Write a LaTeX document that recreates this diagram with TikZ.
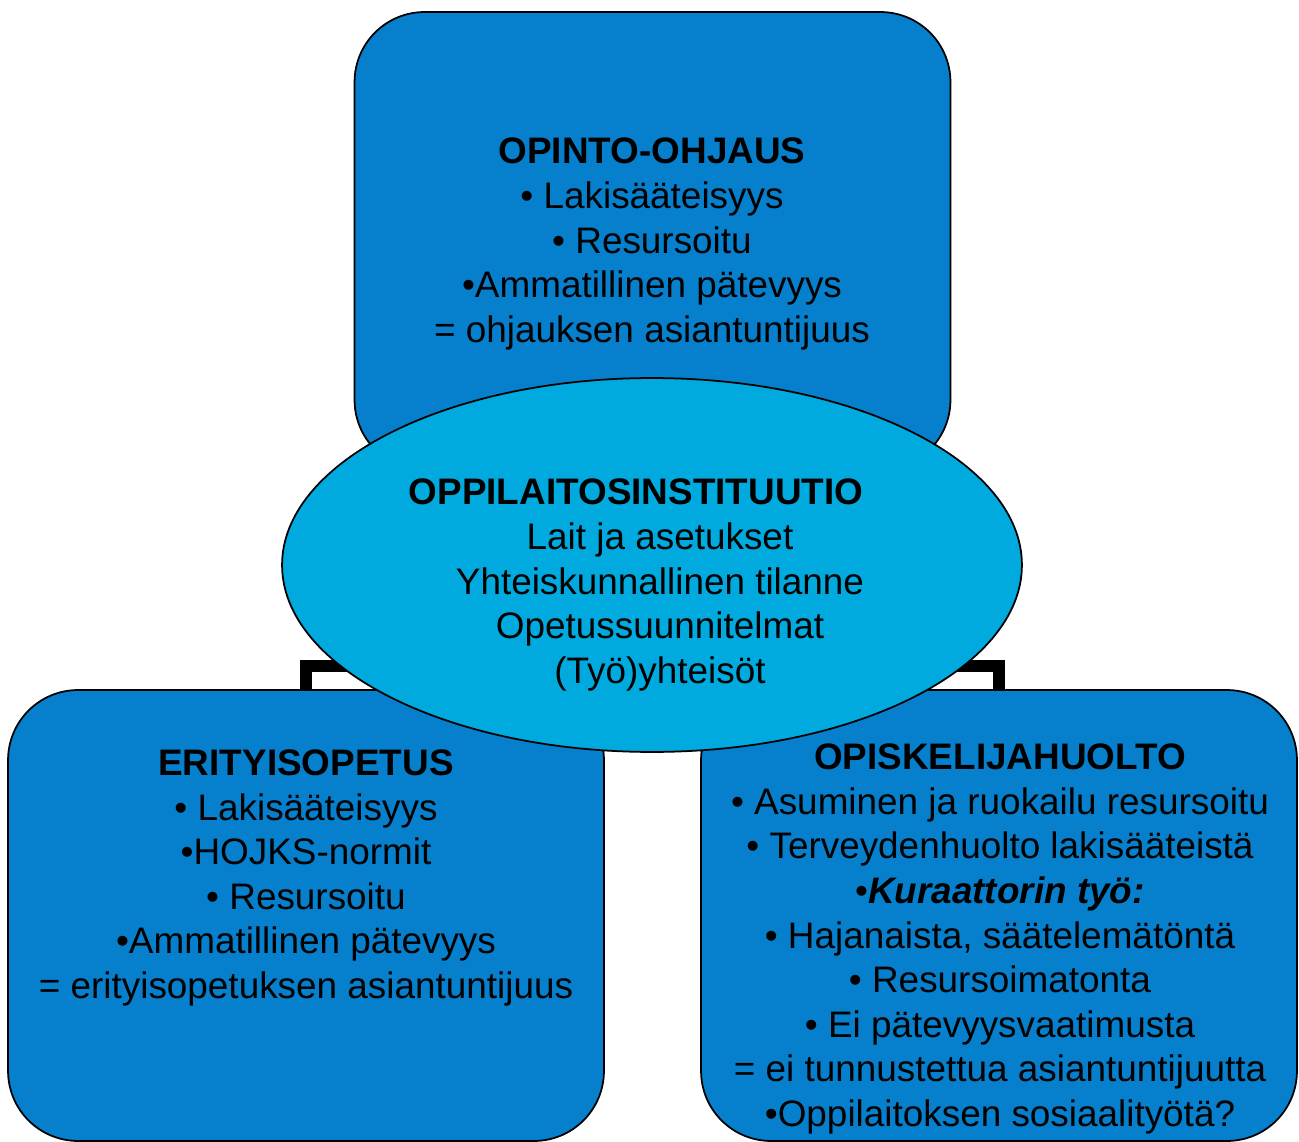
\documentclass[tikz,border=0pt]{standalone}
\usepackage{fontspec}
\setmainfont{Liberation Sans}
\usetikzlibrary{backgrounds,shapes.geometric}
\definecolor{boxblue}{RGB}{6,128,205}
\definecolor{ovalblue}{RGB}{0,170,222}

\begin{document}
\begin{tikzpicture}[line cap=round, line join=round, x=0.02cm, y=-0.02cm,
    infobox/.style={draw=black, line width=1pt, fill=boxblue, rounded corners=1.4cm,
        minimum width=11.92cm, minimum height=9.02cm, inner sep=0pt},
    centreoval/.style={draw=black, line width=1pt, fill=ovalblue, ellipse,
        minimum width=14.8cm, minimum height=7.48cm, inner sep=0pt},
    elbow/.style={line width=6.3pt, line cap=butt, line join=miter, draw=black},
    boxtext/.style={align=center, font=\fontsize{21}{25.4}\selectfont, inner sep=0pt}]
    \useasboundingbox (0, 0) rectangle (1299, 1142);

    % Centre ellipse
    \node[centreoval] (oppi) at (652, 565) {};

    \begin{scope}[on background layer]
        % Three boxes
        \node[infobox, minimum height=9.16cm] (opo) at (652.5, 241) {};
        \node[infobox] (eri) at (306, 915.5) {};
        \node[infobox] (huolto) at (999, 915.5) {};

        % Elbow connectors behind the ellipse
        \draw[elbow] (eri.north) |- ([yshift=-2.02cm]oppi.center);
        \draw[elbow] (huolto.north) |- ([yshift=-2.02cm]oppi.center);
    \end{scope}

    % Texts
    \node[boxtext] (opotext) at (652, 244) {\textbf{OPINTO-OHJAUS}\\
        • Lakisääteisyys\\
        • Resursoitu\\
        •Ammatillinen pätevyys\\
        = ohjauksen asiantuntijuus};
    \node[boxtext] (oppitext) at (660, 585) {\textbf{OPPILAITOSINSTITUUTIO}\kern0.96cm\\
        Lait ja asetukset\\
        Yhteiskunnallinen tilanne\\
        Opetussuunnitelmat\\
        (Työ)yhteisöt};
    \node[boxtext] (eritext) at (306, 878) {\textbf{ERITYISOPETUS}\\
        • Lakisääteisyys\\
        •HOJKS-normit\\
        • Resursoitu\\
        •Ammatillinen pätevyys\\
        = erityisopetuksen asiantuntijuus};
    \node[boxtext] (huoltotext) at (1000, 939) {\textbf{OPISKELIJAHUOLTO}\\
        • Asuminen ja ruokailu resursoitu\\
        • Terveydenhuolto lakisääteistä\\
        •\textbf{\textit{Kuraattorin työ:}}\\
        • Hajanaista, säätelemätöntä\\
        • Resursoimatonta\\
        • Ei pätevyysvaatimusta\\
        = ei tunnustettua asiantuntijuutta\\
        •Oppilaitoksen sosiaalityötä?};
\end{tikzpicture}
\end{document}
